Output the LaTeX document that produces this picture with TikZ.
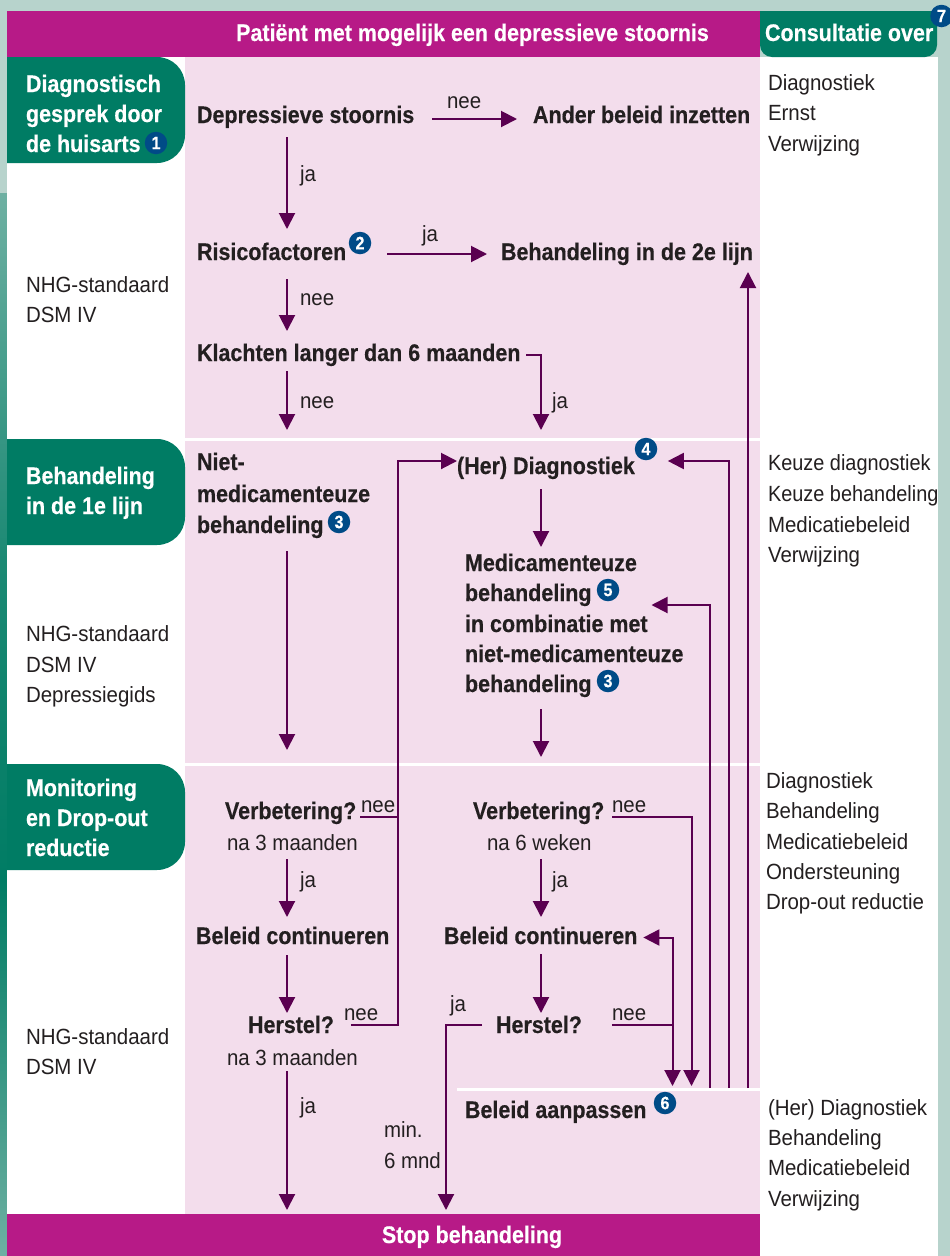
\documentclass[tikz,border=0pt]{standalone}
\usepackage{fontspec}
\usetikzlibrary{arrows.meta}
\setmainfont{Liberation Sans}
\newfontfamily\regf{Liberation Sans}[FakeStretch=.93]
\newfontfamily\regn{Liberation Sans}[FakeStretch=.905]
\newfontfamily\boldf{Liberation Sans}[FakeStretch=.895,BoldFeatures={FakeBold=0.4}]
\definecolor{inkc}{HTML}{231F20}
\definecolor{magc}{HTML}{B71A87}
\definecolor{pinkc}{HTML}{F3DDEC}
\definecolor{greenc}{HTML}{007C64}
\definecolor{palec}{HTML}{B7D3CC}
\definecolor{arrc}{HTML}{5A0050}
\definecolor{navyc}{HTML}{004B87}
\tikzset{
  x=1pt,y=-1pt,
  hd/.style 2 args={text height=#1pt,text depth=#2pt},
  txtbase/.style={inner sep=0pt,outer sep=0pt,anchor=base west},
  flowtxt/.style={txtbase,text=inkc,font=\boldf\bfseries\fontsize{24}{28}\selectfont},
  plain/.style={txtbase,text=inkc,font=\regf\fontsize{22}{26}\selectfont},
  plainn/.style={txtbase,text=inkc,font=\regn\fontsize{22}{26}\selectfont},
  lab/.style={plain},
  stage/.style={txtbase,text=white,font=\boldf\bfseries\fontsize{24}{28}\selectfont},
  banner/.style={inner sep=0pt,outer sep=0pt,anchor=base,text=white,font=\boldf\bfseries\fontsize{24}{28}\selectfont},
  badge/.style={circle,fill=navyc,text=white,inner sep=0pt,minimum size=22.5pt,font=\boldf\bfseries\fontsize{18}{18}\selectfont},
  conn/.style={draw=arrc,line width=2pt},
  arr/.style={conn,-{Triangle[length=16pt,width=16pt]}},
}
\begin{document}
\begin{tikzpicture}
\useasboundingbox (0,0) rectangle (950,1256);
% background
\fill[palec] (0,0) rectangle (950,1256);
\shade[top color=palec!60!greenc,bottom color=greenc!85!palec] (0,193) rectangle (7,560);
\shade[top color=greenc!85!palec,bottom color=greenc] (0,560) rectangle (7,880);
\shade[top color=greenc,bottom color=palec!60!greenc] (0,880) rectangle (7,1256);
\fill[white] (7,57) rectangle (938,1256);
\fill[pinkc] (185,57) rectangle (760,1214);
\fill[magc] (7,11) rectangle (760,57);
\fill[magc] (7,1214) rectangle (760,1256);
% white dividers
\fill[white] (185,437.5) rectangle (760,440.5);
\fill[white] (185,762.5) rectangle (760,765.5);
\fill[white] (457,1087.5) rectangle (760,1090.5);
% green tabs
\fill[greenc] (7,57) [rounded corners=28pt] -- (185,57) -- (185,163) [sharp corners] -- (7,163) -- cycle;
\fill[greenc] (7,439) [rounded corners=28pt] -- (185,439) -- (185,545) [sharp corners] -- (7,545) -- cycle;
\fill[greenc] (7,764) [rounded corners=28pt] -- (185,764) -- (185,870) [sharp corners] -- (7,870) -- cycle;
\fill[greenc] (760,11) -- (937,11) [rounded corners=12pt] -- (937,57) -- (760,57) [sharp corners] -- cycle;
% banners
\node[banner] (patient) at (472.5,41) {Patiënt met mogelijk een depressieve stoornis};
\node[banner] (stop) at (472,1243) [hd={33}{10}] {Stop behandeling};
\node[stage] (cons) at (765,41) {Consultatie over};
% stage labels
\node[stage] (s1a) at (26,92) {Diagnostisch};
\node[stage] (s1b) at (26,122) {gesprek door};
\node[stage] (s1c) at (26,152) {de huisarts};
\node[stage] (s2a) at (26,484) {Behandeling};
\node[stage] (s2b) at (26,514) {in de 1e lijn};
\node[stage] (s3a) at (26,796) {Monitoring};
\node[stage] (s3b) at (26,826) {en Drop-out};
\node[stage] (s3c) at (26,856) {reductie};
% left notes
\node[plain] (n1a) at (26,292) {NHG-standaard};
\node[plain] (n1b) at (26,322) {DSM IV};
\node[plain] (n2a) at (26,641) {NHG-standaard};
\node[plain] (n2b) at (26,672) {DSM IV};
\node[plain] (n2c) at (26,702) {Depressiegids};
\node[plain] (n3a) at (26,1044) {NHG-standaard};
\node[plain] (n3b) at (26,1074) {DSM IV};
% right notes
\node[plain] (r1a) at (768,90) {Diagnostiek};
\node[plain] (r1b) at (768,120) {Ernst};
\node[plain] (r1c) at (768,151) {Verwijzing};
\node[plainn] (r2a) at (768,470) {Keuze diagnostiek};
\node[plainn] (r2b) at (768,501) {Keuze behandeling};
\node[plain] (r2c) at (768,532) {Medicatiebeleid};
\node[plain] (r2d) at (768,562) {Verwijzing};
\node[plain] (r3a) at (766,788) {Diagnostiek};
\node[plain] (r3b) at (766,818) {Behandeling};
\node[plain] (r3c) at (766,849) {Medicatiebeleid};
\node[plain] (r3d) at (766,879) {Ondersteuning};
\node[plain] (r3e) at (766,909) {Drop-out reductie};
\node[plain] (r4a) at (768,1115) {(Her) Diagnostiek};
\node[plain] (r4b) at (768,1145) {Behandeling};
\node[plain] (r4c) at (768,1175) {Medicatiebeleid};
\node[plain] (r4d) at (768,1206) {Verwijzing};
% flow texts
\node[flowtxt,hd={22}{14}] (dep) at (197,123) {Depressieve stoornis};
\node[flowtxt,hd={22}{14}] (ander) at (533,123) {Ander beleid inzetten};
\node[flowtxt,hd={31}{19}] (ris) at (197,260) {Risicofactoren};
\node[flowtxt,hd={24}{12}] (beh2) at (501,260) {Behandeling in de 2e lijn};
\node[flowtxt,hd={30}{10}] (kl) at (197,361) {Klachten langer dan 6 maanden};
\node[flowtxt,hd={44}{15}] (herd) at (457,474) {(Her) Diagnostiek};
\node[flowtxt] (nieta) at (197,470) {Niet-};
\node[flowtxt] (nietb) at (197,502) {medicamenteuze};
\node[flowtxt,hd={18}{18}] (nietc) at (197,533) {behandeling};
\node[flowtxt,hd={24}{6}] (meda) at (465,571) {Medicamenteuze};
\node[flowtxt,hd={18}{6}] (medb) at (465,601) {behandeling};
\node[flowtxt] (medc) at (465,632) {in combinatie met};
\node[flowtxt] (medd) at (465,662) {niet-medicamenteuze};
\node[flowtxt,hd={18}{17}] (mede) at (465,692) {behandeling};
\node[flowtxt,hd={18}{14}] (verba) at (225,819) {Verbetering?};
\node[flowtxt,hd={18}{14}] (verbb) at (473,819) {Verbetering?};
\node[plain,hd={16}{9}] (naa) at (227,850) {na 3 maanden};
\node[plain,hd={16}{9}] (nab) at (487,850) {na 6 weken};
\node[flowtxt,hd={27}{11}] (bela) at (196,944) {Beleid continueren};
\node[flowtxt,hd={27}{10}] (belb) at (444,944) {Beleid continueren};
\node[flowtxt,hd={20}{4}] (hera) at (248,1033) {Herstel?};
\node[flowtxt,hd={20}{4}] (herb) at (496,1033) {Herstel?};
\node[plain,hd={16}{6}] (nac) at (227,1065) {na 3 maanden};
\node[flowtxt,hd={32}{6}] (aanp) at (465,1118) {Beleid aanpassen};
% badges
\node[badge] (b1) at (156,143) {1};
\node[badge] (b2) at (360,243) {2};
\node[badge] (b3a) at (339,522) {3};
\node[badge] (b4) at (646,449) {4};
\node[badge] (b5) at (608,590) {5};
\node[badge] (b3b) at (608,681) {3};
\node[badge] (b6) at (665,1103) {6};
\node[badge] (b7) at (941.5,16) {7};
% connector labels
\node[lab] (l1) at (447,108) {nee};
\node[lab] (l2) at (300,181) {ja};
\node[lab] (l3) at (422,241) {ja};
\node[lab] (l4) at (300,305) {nee};
\node[lab] (l5) at (300,408) {nee};
\node[lab] (l6) at (552,408) {ja};
\node[lab] (l7) at (361,812) {nee};
\node[lab] (l8) at (612,812) {nee};
\node[lab] (l9) at (300,887) {ja};
\node[lab] (l10) at (552,887) {ja};
\node[lab] (l11) at (344,1020) {nee};
\node[lab] (l12) at (612,1020) {nee};
\node[lab] (l13) at (450,1011) {ja};
\node[lab] (l14) at (300,1113) {ja};
\node[lab] (l15) at (384,1137) {min.};
\node[lab] (l16) at (384,1168) {6 mnd};
% lanes and free ends
\coordinate (lA) at (287,0);
\coordinate (lB) at (541,0);
\coordinate (lC) at (398,0);
\coordinate (lD) at (672.5,0);
\coordinate (lE) at (691.5,0);
\coordinate (lF) at (710,0);
\coordinate (lG) at (729,0);
\coordinate (lH) at (748,0);
\coordinate (lI) at (446,0);
\coordinate (split) at (457,1088);
\coordinate (yHer) at (0,461);
\coordinate (endNiet) at (287,750);
\coordinate (endMed) at (541,757);
% connectors
\draw[arr] ([xshift=18pt]dep.east) -- ([xshift=-16pt]ander.west);
\draw[arr] (dep.south -| lA) -- (ris.north -| lA);
\draw[arr] ([xshift=41pt]ris.east) -- ([xshift=-14pt]beh2.west);
\draw[arr] (ris.south -| lA) -- (kl.north -| lA);
\draw[arr] (kl.south -| lA) -- (herd.north -| lA);
\draw[arr] ([xshift=6pt,yshift=-4pt]kl.east) -| (herd.north -| lB);
\draw[arr] (nietc.south -| lA) -- (endNiet);
\draw[arr] (herd.south -| lB) -- (meda.north -| lB);
\draw[arr] (mede.south -| lB) -- (endMed);
\draw[arr] (naa.south -| lA) -- (bela.north -| lA);
\draw[arr] (bela.south -| lA) -- (hera.north -| lA);
\draw[arr] (nac.south -| lA) -- (stop.north -| lA);
\draw[arr] (nab.south -| lB) -- (belb.north -| lB);
\draw[arr] (belb.south -| lB) -- (herb.north -| lB);
\draw[arr] ([xshift=-14pt]herb.west) -| (stop.north -| lI);
\draw[conn] ([xshift=4pt]verba.east) -- (lC |- verba.east);
\draw[arr] ([xshift=17pt]hera.east) -| (lC |- yHer) -- (herd.west |- yHer);
\draw[arr] ([xshift=8pt]verbb.east) -| (aanp.north -| lE);
\draw[arr] ([xshift=30pt]herb.east) -| (aanp.north -| lD);
\draw[arr] (lD |- herb.east) |- ([xshift=6pt,yshift=-2pt]belb.east);
\draw[arr] (split -| lF) |- ([xshift=60pt,yshift=-10pt]medb.east);
\draw[arr] (split -| lG) |- ([xshift=33pt]herd.east |- yHer);
\draw[arr] (split -| lH) -- (beh2.south -| lH);
\end{tikzpicture}
\end{document}
